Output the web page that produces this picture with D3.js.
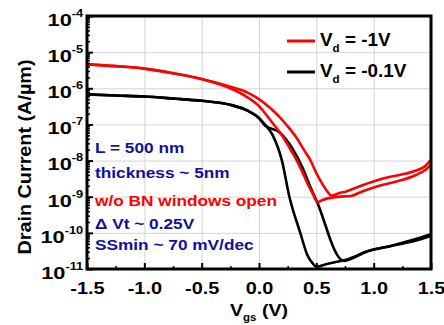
<!DOCTYPE html>
<html>
<head>
<meta charset="utf-8">
<script src="https://cdn.jsdelivr.net/npm/d3@7"></script>
<style>
    body { margin: 0; background: #fff; }
    text { font-family: "Liberation Sans", Arial, sans-serif; font-weight: bold; }
</style>
</head>
<body>
<div id="chart"></div>
<script>
// Vgs (V) vs drain current (A/um), two sweep branches per drain bias
const vd1BranchA = [[-1.5, 4.6e-6], [-1.25, 4.1e-6], [-1.0, 3.5e-6], [-0.75, 2.6e-6], [-0.5, 1.8e-6],
    [-0.25, 1.0e-6], [-0.1, 5.6e-7], [0.0, 3.2e-7], [0.1, 1.3e-7], [0.2, 5.0e-8], [0.28, 1.9e-8],
    [0.33, 1.0e-8], [0.38, 4.7e-9], [0.44, 1.8e-9], [0.47, 1.2e-9], [0.51, 7.1e-10], [0.55, 8.0e-10],
    [0.6, 9.0e-10], [0.7, 1.0e-9], [0.8, 1.05e-9], [0.9, 1.4e-9], [1.02, 1.9e-9], [1.19, 2.6e-9],
    [1.37, 4.0e-9], [1.45, 5.5e-9], [1.5, 7.6e-9]];
const vd1BranchB = [[-1.5, 4.6e-6], [-1.25, 4.1e-6], [-1.0, 3.5e-6], [-0.75, 2.6e-6], [-0.5, 1.8e-6],
    [-0.25, 1.1e-6], [-0.1, 7.6e-7], [0.0, 5.0e-7], [0.1, 2.8e-7], [0.18, 1.6e-7], [0.25, 8.9e-8],
    [0.32, 4.6e-8], [0.4, 1.8e-8], [0.45, 1.0e-8], [0.5, 4.5e-9], [0.555, 2.2e-9], [0.6, 1.35e-9],
    [0.63, 1.07e-9], [0.7, 1.26e-9], [0.76, 1.4e-9], [0.87, 1.9e-9], [0.99, 2.6e-9], [1.135, 3.5e-9],
    [1.337, 4.9e-9], [1.45, 7.1e-9], [1.5, 1.05e-8]];
const vd01BranchA = [[-1.5, 6.8e-7], [-1.25, 6.3e-7], [-1.0, 5.9e-7], [-0.75, 5.2e-7], [-0.5, 4.5e-7],
    [-0.25, 3.5e-7], [-0.1, 2.4e-7], [0.0, 1.5e-7], [0.05, 1.0e-7], [0.12, 5.0e-8], [0.2, 1.0e-8],
    [0.265, 1.0e-9], [0.36, 1.0e-10], [0.42, 2.5e-11], [0.47, 1.4e-11], [0.5, 1.15e-11], [0.6, 1.4e-11],
    [0.76, 1.8e-11], [0.99, 3.4e-11], [1.19, 4.6e-11], [1.4, 6.5e-11], [1.5, 8.3e-11]];
const vd01BranchB = [[-1.5, 6.8e-7], [-1.25, 6.3e-7], [-1.0, 5.9e-7], [-0.75, 5.2e-7], [-0.5, 4.5e-7],
    [-0.25, 3.5e-7], [-0.1, 2.4e-7], [0.0, 1.5e-7], [0.05, 9.5e-8], [0.18, 6.0e-8], [0.29, 2.2e-8],
    [0.38, 6.3e-9], [0.45, 1.8e-9], [0.52, 5.6e-10], [0.58, 1.6e-10], [0.63, 5.6e-11], [0.68, 2.5e-11],
    [0.74, 1.66e-11], [0.8, 1.9e-11], [0.93, 3.0e-11], [1.135, 4.2e-11], [1.337, 6.3e-11], [1.5, 9.1e-11]];

const xTicks = [-1.5, -1.0, -0.5, 0.0, 0.5, 1.0, 1.5];
const xMinorTicks = [-1.25, -0.75, -0.25, 0.25, 0.75, 1.25];
const yTicks = [1e-4, 1e-5, 1e-6, 1e-7, 1e-8, 1e-9, 1e-10, 1e-11];
const legendLabels = ["-1V", "-0.1V"];
const notes = ["L = 500 nm", "thickness ~ 5nm", "w/o BN windows open", "\u0394 Vt ~ 0.25V", "SSmin ~ 70 mV/dec"];

const W = 444, H = 325;
const margin = {top: 16, right: 13, bottom: 56, left: 87};
const width = W - margin.left - margin.right,
    height = H - margin.top - margin.bottom;
const red = "#ff0000", blue = "#10109c";

const svg = d3.select("#chart").append("svg")
    .attr("width", W)
    .attr("height", H);
const g = svg.append("g")
    .attr("transform", "translate(" + margin.left + "," + margin.top + ")");

const x = d3.scaleLinear().domain([-1.5, 1.5]).range([0, width]);
const y = d3.scaleLog().domain([1e-11, 1e-4]).range([height, 0]);

// grid
g.append("g")
    .attr("transform", `translate(0, ${height})`)
    .call(d3.axisBottom(x).tickValues(xTicks).tickSize(-height).tickFormat(""))
    .call(s => s.select(".domain").remove())
    .selectAll("line").attr("stroke", "#d4d4d4");
g.append("g")
    .call(d3.axisLeft(y).tickValues(yTicks).tickSize(-width).tickFormat(""))
    .call(s => s.select(".domain").remove())
    .selectAll("line").attr("stroke", "#d4d4d4");

// curves
const line = d3.line()
    .x(d => x(d[0]))
    .y(d => y(d[1]))
    .curve(d3.curveMonotoneX);

const series = [
    {data: vd01BranchA, color: "#000"},
    {data: vd01BranchB, color: "#000"},
    {data: vd1BranchA, color: red},
    {data: vd1BranchB, color: red}
];
g.selectAll(".curve")
    .data(series)
    .join("path")
    .attr("class", "curve")
    .attr("d", d => line(d.data))
    .attr("fill", "none")
    .attr("stroke", d => d.color)
    .attr("stroke-width", 2.6)
    .attr("stroke-linejoin", "round");

// minor ticks
const yMinor = [];
for (let e = -11; e < -4; e++) {
    for (let k = 2; k <= 9; k++) yMinor.push(k * Math.pow(10, e));
}
g.append("g")
    .call(d3.axisLeft(y).tickValues(yMinor).tickSize(-3).tickFormat(""))
    .call(s => s.select(".domain").remove())
    .selectAll("line").attr("stroke", "#000").attr("stroke-width", 1.5);
g.append("g")
    .attr("transform", `translate(0, ${height})`)
    .call(d3.axisBottom(x).tickValues(xMinorTicks).tickSize(-3).tickFormat(""))
    .call(s => s.select(".domain").remove())
    .selectAll("line").attr("stroke", "#000").attr("stroke-width", 1.5);

// major axes
const xAxis = g.append("g")
    .attr("transform", `translate(0, ${height})`)
    .call(d3.axisBottom(x).tickValues(xTicks).tickSize(-6).tickPadding(13)
        .tickFormat(d => d.toFixed(1)));
xAxis.select(".domain").remove();
xAxis.selectAll("line").attr("stroke-width", 2);
xAxis.selectAll("text")
    .attr("font-size", 17)
    .attr("fill", "#000")
    .attr("transform", "scale(1.17,1)");

const yAxis = g.append("g")
    .call(d3.axisLeft(y).tickValues(yTicks).tickSize(-6).tickPadding(3).tickFormat(""));
yAxis.select(".domain").remove();
yAxis.selectAll("line").attr("stroke-width", 2);
yAxis.selectAll(".tick text")
    .attr("font-size", 17)
    .attr("fill", "#000")
    .attr("dy", "0.55em")
    .attr("transform", "scale(1.28,1)")
    .each(function (d) {
        const t = d3.select(this);
        t.append("tspan").text("10");
        t.append("tspan")
            .attr("font-size", 10)
            .attr("dy", -9)
            .text(String(Math.round(Math.log10(d))));
    });

// frame
g.append("rect")
    .attr("width", width)
    .attr("height", height)
    .attr("fill", "none")
    .attr("stroke", "#000")
    .attr("stroke-width", 3);

// axis titles
const xTitle = svg.append("text")
    .attr("transform", "translate(259, 316) scale(1.15,1)")
    .attr("text-anchor", "middle")
    .attr("font-size", 17);
xTitle.append("tspan").text("V");
xTitle.append("tspan").attr("font-size", 10).attr("dy", 5).text("gs");
xTitle.append("tspan").attr("dy", -5).text(" (V)");

svg.append("text")
    .attr("transform", "translate(31, 157) rotate(-90) scale(1.1,1)")
    .attr("text-anchor", "middle")
    .attr("font-size", 18)
    .text("Drain Current (A/\u00b5m)");

// legend
const legend = svg.append("g");
const legendColors = [red, "#000"];
legendLabels.forEach((lab, i) => {
    const ly = 41 + i * 31;
    legend.append("line")
        .attr("x1", 287).attr("x2", 315)
        .attr("y1", ly).attr("y2", ly)
        .attr("stroke", legendColors[i])
        .attr("stroke-width", 3);
    const t = legend.append("text")
        .attr("transform", `translate(320, ${ly + 4.5}) scale(1.05,1)`)
        .attr("font-size", 18);
    t.append("tspan").text("V");
    t.append("tspan").attr("font-size", 11).attr("dy", 6).text("d");
    t.append("tspan").attr("dy", -6).text(" = " + lab);
});

// annotations
const noteY = [153, 178, 206, 229, 250];
notes.forEach((n, i) => {
    svg.append("text")
        .attr("transform", `translate(95, ${noteY[i]}) scale(1.15,1)`)
        .attr("font-size", 15)
        .attr("fill", i === 2 ? red : blue)
        .text(n);
});
</script>
</body>
</html>
